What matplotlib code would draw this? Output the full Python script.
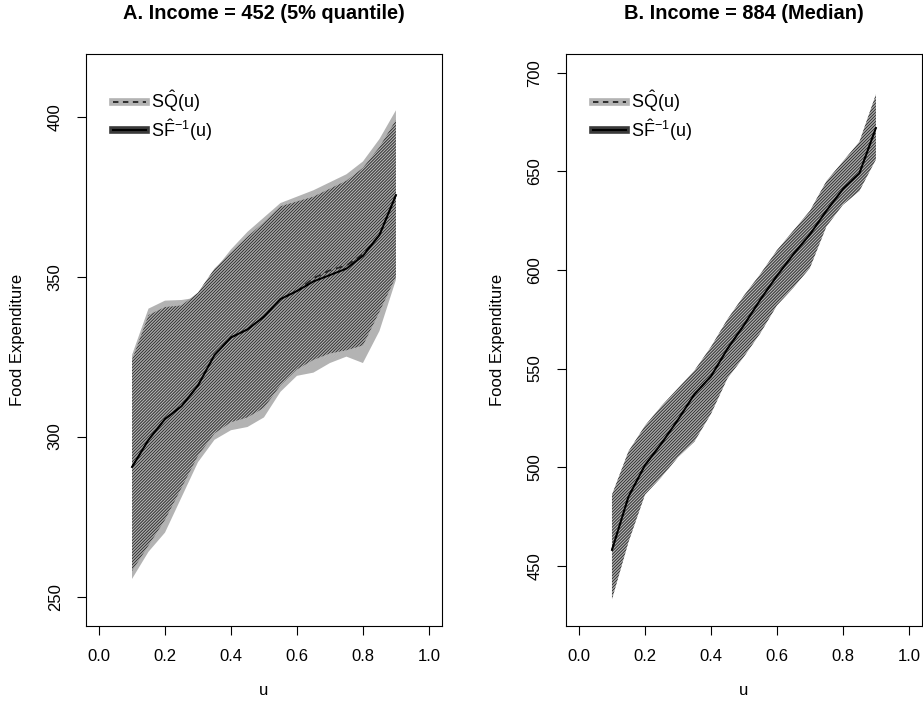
import matplotlib.pyplot as plt
from matplotlib.lines import Line2D

plt.rcParams['font.family'] = ['Liberation Sans', 'DejaVu Sans']
plt.rcParams['mathtext.fontset'] = 'custom'
plt.rcParams['mathtext.rm'] = 'Liberation Sans'
plt.rcParams['mathtext.it'] = 'Liberation Sans:italic'
plt.rcParams['mathtext.bf'] = 'Liberation Sans:bold'
plt.rcParams['hatch.linewidth'] = 0.7

# grille des quantiles u
u = [0.10, 0.15, 0.20, 0.25, 0.30, 0.35, 0.40, 0.45, 0.50,
     0.55, 0.60, 0.65, 0.70, 0.75, 0.80, 0.85, 0.90]

# A. revenu = 452 (quantile 5%)
a_sq_bas = [255.5, 264, 270, 281, 292, 299, 302, 303, 306, 314, 319, 320, 323, 325, 323, 333, 349]
a_sq_haut = [325.5, 340, 342.5, 342.7, 343.5, 352, 358.5, 364, 368.5, 373, 375, 377, 379.5, 382, 386, 393, 402]
a_sf_bas = [258, 266, 274, 284, 294, 301, 304.5, 306, 309, 316, 321, 324, 326, 327, 328.5, 339, 350]
a_sf_haut = [324, 338, 340.5, 341, 345, 352.5, 357.5, 362.5, 367, 372, 373.5, 375, 377.5, 380, 384, 390.5, 399]
a_sq_med = [290.5, 299, 305.5, 309.5, 316, 325.5, 331, 333.5, 337.5, 343, 345.5, 349.5, 352, 353.5, 357, 363, 375.5]
a_sf_med = [290.5, 299, 305.5, 309.5, 316, 325.5, 331, 333.5, 337.5, 343, 345.5, 348.5, 350.5, 352.5, 356.5, 363, 375.5]

# B. revenu = 884 (mediane)
b_sq_bas = [434, 463, 487, 496, 506, 514, 528, 546, 557, 569, 583, 592, 602, 623, 634, 641, 657]
b_sq_haut = [485, 507, 520, 530, 539, 548, 560, 574, 586, 597, 609, 619, 629, 644, 654, 664, 688]
b_sf_bas = [433, 462, 486, 495, 505, 513, 527, 545, 556, 568, 582, 591, 601, 622, 633, 640, 656]
b_sf_haut = [486, 508, 521, 531, 540, 549, 561, 575, 587, 598, 610, 620, 630, 645, 655, 665, 689]
b_sq_med = [458, 485, 501, 512, 524, 537, 546, 560, 572, 585, 597, 608, 618, 630, 641, 649, 672]
b_sf_med = [458, 485, 501, 512, 524, 537, 546, 560, 572, 585, 597, 608, 618, 630, 641, 649, 672]

xticks = [0.0, 0.2, 0.4, 0.6, 0.8, 1.0]
xlabels = ['0.0', '0.2', '0.4', '0.6', '0.8', '1.0']


def panneau(ax, titre, sq_bas, sq_haut, sf_bas, sf_haut, sq_med, sf_med, ylim, yticks):
    # bande grise SQ puis bande hachuree SF
    ax.fill_between(u, sq_bas, sq_haut, facecolor='#b3b3b3', linewidth=0)
    ax.fill_between(u, sf_bas, sf_haut, facecolor='#b3b3b3', edgecolor='#303030',
                    hatch='/' * 11, linewidth=0)
    ax.plot(u, sq_med, color='#222222', linestyle=(0, (4, 3)), linewidth=1.2)
    ax.plot(u, sf_med, color='black', linewidth=1.4)

    ax.set_xlim(-0.04, 1.04)
    ax.set_ylim(ylim)
    ax.set_xticks(xticks, xlabels)
    ax.set_yticks(yticks, [str(v) for v in yticks])
    plt.setp(ax.get_yticklabels(), rotation=90, va='center')
    ax.tick_params(direction='out', length=6.7, width=0.8, pad=10, labelsize=12)
    for s in ax.spines.values():
        s.set_linewidth(0.8)

    ax.set_title(titre, fontsize=14.4, fontweight='bold', pad=25)
    ax.set_xlabel('u', fontsize=12, labelpad=14)
    ax.set_ylabel('Food Expenditure', fontsize=12, labelpad=16)

    poignees = [(Line2D([], [], color='#b3b3b3', lw=5.5),
                 Line2D([], [], color='#222222', ls=(0, (3, 2.5)), lw=1.3)),
                (Line2D([], [], color='#3a3a3a', lw=5.5),
                 Line2D([], [], color='black', lw=1.5))]
    textes = [r'$\mathrm{S\hat{Q}(u)}$', r'$\mathrm{S\hat{F}^{-1}(u)}$']
    ax.legend(poignees, textes, loc='upper left', bbox_to_anchor=(0.075, 0.94),
              frameon=False, fontsize=13, handlelength=1.85, handletextpad=0.3,
              borderpad=0, borderaxespad=0, labelspacing=0.15)


fig = plt.figure(figsize=(9.23, 7.14), dpi=100)
axA = fig.add_axes([0.093, 0.1237, 0.386, 0.8007])
axB = fig.add_axes([0.613, 0.1237, 0.386, 0.8007])

panneau(axA, 'A. Income = 452 (5% quantile)', a_sq_bas, a_sq_haut, a_sf_bas, a_sf_haut,
        a_sq_med, a_sf_med, (240.9, 419.6), [250, 300, 350, 400])
panneau(axB, 'B. Income = 884 (Median)', b_sq_bas, b_sq_haut, b_sf_bas, b_sf_haut,
        b_sq_med, b_sf_med, (419.6, 709.5), [450, 500, 550, 600, 650, 700])

fig.savefig('out.png', dpi=100)
